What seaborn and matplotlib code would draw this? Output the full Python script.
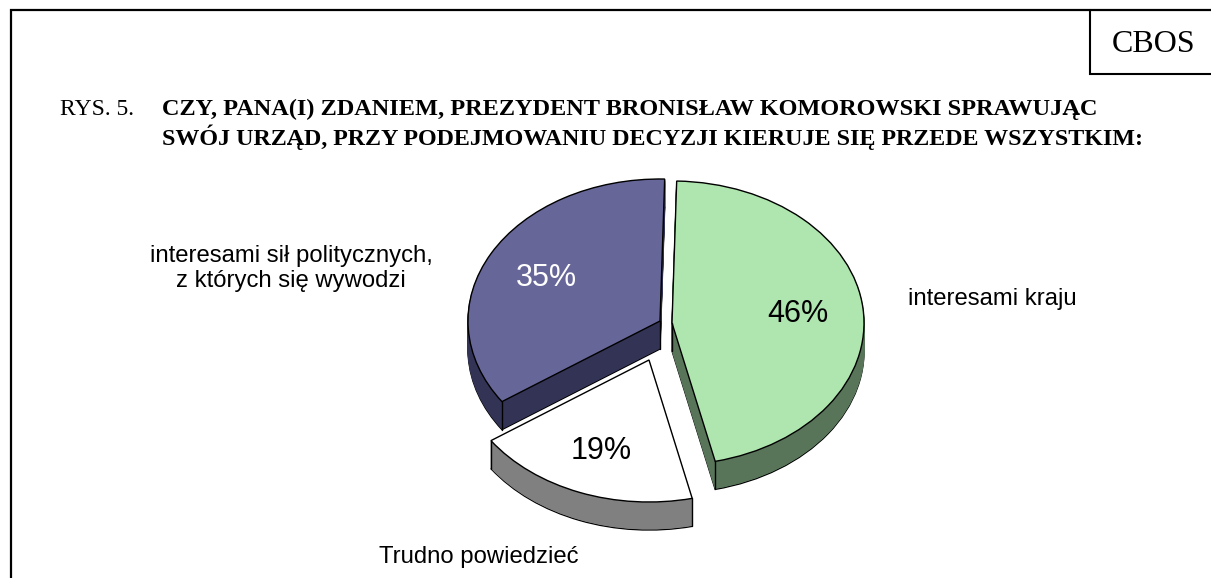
import numpy as np
import matplotlib
matplotlib.use("Agg")
import matplotlib.pyplot as plt
import seaborn as sns

values = [46, 19, 35]
labels = ["interesami kraju", "Trudno powiedzieć", "interesami sił politycznych,\nz których się wywodzi"]
face_colors = ["#AFE5AE", "#FFFFFF", "#666699"]
side_colors = ["#58755A", "#808080", "#333355"]
title_prefix = "RYS. 5."
title_lines = ["CZY, PANA(I) ZDANIEM, PREZYDENT BRONISŁAW KOMOROWSKI SPRAWUJĄC",
               "SWÓJ URZĄD, PRZY PODEJMOWANIU DECYZJI KIERUJE SIĘ PRZEDE WSZYSTKIM:"]
source = "CBOS"

W, H = 1211, 578
RX, RY, DEPTH = 192.0, 142.0, 28
START = 88.6
apex_px = [(672, 323), (649, 360), (660, 321)]
label_px = [(992, 305), (479, 563), (291, 287)]
pct_px = [(798, 314), (601, 451), (546, 278)]
pct_colors = ["black", "black", "white"]

sns.set_theme(style="white")
plt.rcParams["font.family"] = ["Liberation Sans", "DejaVu Sans"]
fig = plt.figure(figsize=(W / 100, H / 100), dpi=100, facecolor="white")
ax = fig.add_axes([0, 0, 1, 1])


def to_units(px, py):
    return px / RX, (H - py) / RY


def layer(colors, dy, lw, edge):
    wedges, _ = ax.pie(values, colors=colors, startangle=START, counterclock=False,
                       radius=1.0, wedgeprops=dict(linewidth=lw, edgecolor=edge))
    for w, (px, py) in zip(wedges, apex_px):
        w.set_center(to_units(px, py + dy))
    return wedges


layer(side_colors, DEPTH, 1.0, "black")
for dy in range(DEPTH - 1, 0, -1):
    layer(side_colors, dy, 0.8, None)
    for w, c in zip(ax.patches[-3:], side_colors):
        w.set_edgecolor(c)
layer(face_colors, 0, 1.0, "black")

ax.set_aspect("auto")
ax.set_xlim(0, W / RX)
ax.set_ylim(0, H / RY)
ax.axis("off")

# vertical edges of the extruded sides, at each slice's radial ends
fractions = np.array(values) / sum(values)
edges = START - 360 * np.concatenate([[0], np.cumsum(fractions)])
for i, (px, py) in enumerate(apex_px):
    a0, a1 = np.deg2rad(edges[i]), np.deg2rad(edges[i + 1])
    cx, cy = to_units(px, py)
    ends = {0: [a1], 1: [a0, a1], 2: [a0]}[i]
    for a in ends:
        x = cx + np.cos(a)
        y = cy + np.sin(a)
        ax.plot([x, x], [y, y - DEPTH / RY], color="black", lw=1.0, zorder=5)
    if i != 1:
        ax.plot([cx, cx], [cy, cy - DEPTH / RY], color="black", lw=1.0, zorder=5)

ov = fig.add_axes([0, 0, 1, 1], facecolor="none")
ov.set_xlim(0, W)
ov.set_ylim(H, 0)
ov.axis("off")

ov.plot([W, 11, 11], [10, 10, H], color="black", lw=1.6, solid_joinstyle="miter")
ov.plot([W, 1090, 1090], [74, 74, 10], color="black", lw=1.5, solid_joinstyle="miter")

serif = ["Liberation Serif", "DejaVu Serif"]
ov.text(1154, 52, source, family=serif, fontsize=23, ha="center", va="baseline", color="black")
ov.text(60, 115, title_prefix, family=serif, fontsize=17, ha="left", va="baseline", color="black")
for s, y, fs in zip(title_lines, [115, 145], [17.5, 17.3]):
    ov.text(162, y, s, family=serif, fontsize=fs, fontweight="bold", ha="left", va="baseline", color="black")

for lab, (x, y) in zip(labels, label_px):
    ov.text(x, y, lab, fontsize=17.2, ha="center", va="baseline", color="black",
            linespacing=1.17, multialignment="center")
for v, (x, y), c in zip(values, pct_px, pct_colors):
    ov.text(x, y, f"{v}%", fontsize=22, ha="center", va="center", color=c)

fig.savefig("out.png", dpi=100, facecolor="white")
